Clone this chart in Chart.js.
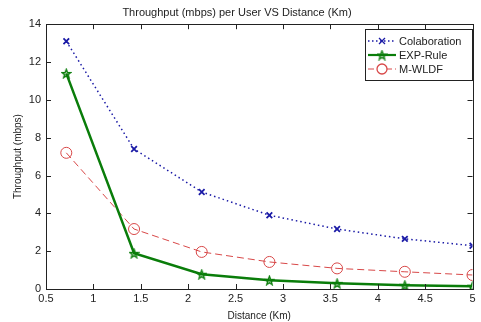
<!DOCTYPE html>
<html>
<head>
<meta charset="utf-8">
<script src="https://cdn.jsdelivr.net/npm/chart.js@4.4.0/dist/chart.umd.min.js"></script>
<style>
html,body{margin:0;padding:0;background:#fff;}
#wrap{width:481px;height:322px;position:relative;}
</style>
</head>
<body>
<div id="wrap"><canvas id="c" width="481" height="322"></canvas></div>
<script>
const distances = [0.714, 1.429, 2.143, 2.857, 3.571, 4.286, 5];
const colaboration = [13.1, 7.4, 5.13, 3.9, 3.17, 2.65, 2.29];
const expRule = [11.4, 1.89, 0.78, 0.46, 0.3, 0.2, 0.15];
const mWldf = [7.2, 3.17, 1.96, 1.43, 1.09, 0.91, 0.74];
const seriesNames = ['Colaboration', 'EXP-Rule', 'M-WLDF'];
const xTicks = [0.5, 1, 1.5, 2, 2.5, 3, 3.5, 4, 4.5, 5];
const yTicks = [0, 2, 4, 6, 8, 10, 12, 14];

const FONT = 'Liberation Sans, Arial, sans-serif';
const BLUE = '#1a1aa6';
const GREEN = '#0a7d0a';
const RED = '#d84848';

function makeStar(size, color) {
  const cv = document.createElement('canvas');
  cv.width = size; cv.height = size;
  const g = cv.getContext('2d');
  const cx = size / 2, cy = size / 2 + 0.5, R = size / 2 - 1, r = R * 0.42;
  g.beginPath();
  for (let i = 0; i < 10; i++) {
    const a = -Math.PI / 2 + i * Math.PI / 5;
    const rr = i % 2 === 0 ? R : r;
    const px = cx + rr * Math.cos(a), py = cy + rr * Math.sin(a);
    if (i === 0) g.moveTo(px, py); else g.lineTo(px, py);
  }
  g.closePath();
  g.strokeStyle = color; g.lineWidth = 1.4; g.stroke();
  return cv;
}
const starImg = makeStar(11, GREEN);

function toPts(ys) { return distances.map((x, i) => ({x: x, y: ys[i]})); }

const framePlugin = {
  id: 'frame',
  afterDraw(chart) {
    const {ctx, chartArea: a, scales} = chart;
    ctx.save();
    ctx.strokeStyle = '#222';
    ctx.lineWidth = 1;
    ctx.strokeRect(Math.round(a.left) + 0.5, Math.round(a.top) + 0.5, Math.round(a.right - a.left), Math.round(a.bottom - a.top));
    ctx.beginPath();
    const L = 5;
    xTicks.forEach(v => {
      const px = Math.round(scales.x.getPixelForValue(v)) + 0.5;
      ctx.moveTo(px, a.bottom); ctx.lineTo(px, a.bottom - L);
      ctx.moveTo(px, a.top); ctx.lineTo(px, a.top + L);
    });
    yTicks.forEach(v => {
      const py = Math.round(scales.y.getPixelForValue(v)) + 0.5;
      ctx.moveTo(a.left, py); ctx.lineTo(a.left + L, py);
      ctx.moveTo(a.right, py); ctx.lineTo(a.right - L, py);
    });
    ctx.stroke();

    // legend
    const bx = 365.5, by = 29.5, bw = 107, bh = 51;
    ctx.fillStyle = '#fff';
    ctx.fillRect(bx, by, bw, bh);
    ctx.strokeStyle = '#222';
    ctx.strokeRect(bx, by, bw, bh);
    const rows = [41, 55, 69];
    const styles = [
      {color: BLUE, dash: [1.5, 2.5], w: 1.3},
      {color: GREEN, dash: [], w: 2.2},
      {color: RED, dash: [6, 3], w: 1}
    ];
    ctx.font = '11px ' + FONT;
    ctx.textBaseline = 'middle';
    ctx.textAlign = 'left';
    rows.forEach((yy, i) => {
      const s = styles[i];
      ctx.beginPath();
      ctx.setLineDash(s.dash);
      ctx.strokeStyle = s.color; ctx.lineWidth = s.w;
      ctx.moveTo(368, yy); ctx.lineTo(396, yy);
      ctx.stroke();
      ctx.setLineDash([]);
      const mx = 382;
      ctx.lineWidth = 1.3;
      if (i === 0) {
        ctx.beginPath();
        ctx.moveTo(mx - 3, yy - 3); ctx.lineTo(mx + 3, yy + 3);
        ctx.moveTo(mx + 3, yy - 3); ctx.lineTo(mx - 3, yy + 3);
        ctx.stroke();
      } else if (i === 1) {
        ctx.drawImage(starImg, mx - 5.5, yy - 5.5);
      } else {
        ctx.beginPath();
        ctx.fillStyle = '#fff';
        ctx.arc(mx, yy, 5, 0, Math.PI * 2);
        ctx.fill(); ctx.stroke();
      }
      ctx.fillStyle = '#222';
      ctx.fillText(seriesNames[i], 399, yy + 0.5);
    });
    ctx.restore();
  }
};

new Chart(document.getElementById('c'), {
  type: 'line',
  data: {
    datasets: [
      {
        label: seriesNames[0], data: toPts(colaboration),
        borderColor: BLUE, backgroundColor: BLUE, borderWidth: 1.5,
        borderDash: [1.5, 3], pointStyle: 'crossRot', pointRadius: 4,
        pointBorderWidth: 1.8, pointBorderColor: BLUE, tension: 0
      },
      {
        label: seriesNames[1], data: toPts(expRule),
        borderColor: GREEN, backgroundColor: GREEN, borderWidth: 2.5,
        pointStyle: starImg, pointRadius: 6, tension: 0
      },
      {
        label: seriesNames[2], data: toPts(mWldf),
        borderColor: RED, backgroundColor: 'rgba(255,255,255,0)', borderWidth: 1,
        borderDash: [7, 4], pointStyle: 'circle', pointRadius: 5.5,
        pointBorderWidth: 1, pointBorderColor: RED, pointBackgroundColor: 'rgba(255,255,255,0)', tension: 0
      }
    ]
  },
  options: {
    responsive: false,
    animation: false,
    events: [],
    layout: {padding: {left: 0, right: 7, top: 0, bottom: 0}},
    plugins: {
      legend: {display: false},
      tooltip: {enabled: false},
      title: {
        display: true,
        text: 'Throughput (mbps) per User VS Distance (Km)',
        color: '#222',
        font: {family: FONT, size: 11, weight: 'normal'},
        padding: {top: 6, bottom: 5}
      }
    },
    scales: {
      x: {
        type: 'linear', min: 0.5, max: 5,
        afterBuildTicks(s) { s.ticks = xTicks.map(v => ({value: v})); },
        afterFit(s) { s.height = 33; },
        grid: {display: false, drawTicks: false},
        border: {display: false},
        ticks: {color: '#222', font: {family: FONT, size: 11}, padding: 3, maxRotation: 0, autoSkip: false,
          callback: v => String(v)},
        title: {display: true, text: 'Distance (Km)', color: '#222', font: {family: FONT, size: 10}, padding: {top: -2, bottom: 0}}
      },
      y: {
        min: 0, max: 14,
        afterBuildTicks(s) { s.ticks = yTicks.map(v => ({value: v})); },
        afterFit(s) { s.width = 46; },
        grid: {display: false, drawTicks: false},
        border: {display: false},
        ticks: {color: '#222', font: {family: FONT, size: 11}, padding: 5, autoSkip: false},
        title: {display: true, text: 'Throughput (mbps)', color: '#222', font: {family: FONT, size: 10}, padding: {top: 12, bottom: 0}}
      }
    }
  },
  plugins: [framePlugin]
});
</script>
</body>
</html>
